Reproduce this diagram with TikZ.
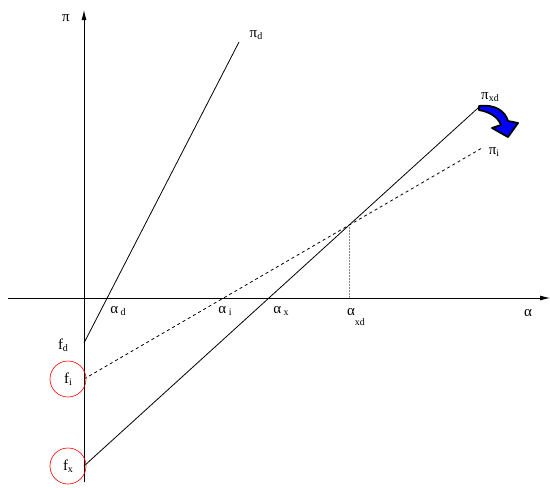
\documentclass[tikz,border=0pt]{standalone}
\usepackage{fontspec}
\setmainfont{Liberation Serif}
\usetikzlibrary{arrows.meta,intersections}
\newcommand{\sbs}[1]{\raisebox{-0.35ex}{\fontsize{10}{11}\selectfont #1}}
\begin{document}
\begin{tikzpicture}[>={Latex[length=10pt,width=5pt]}, x=1pt, y=-1pt, line width=0.8pt,
    lbl/.style={font=\fontsize{15}{17}\selectfont, inner sep=1pt},
    ring/.style={circle, draw=red, line width=0.6pt, minimum size=36pt, inner sep=0pt, font=\fontsize{15}{17}\selectfont}]
    \useasboundingbox (0,0) rectangle (550,488);
    % Axes
    \draw[->] (8,298) -- (550,298);
    \draw[->] (84,482) -- (84,10);
    \node[lbl] (alpha) at (528,313) {α};
    \node[lbl] (pi) at (66,18) {π};
    
    % Intercepts and ends
    \coordinate (fd) at (84,343);
    \coordinate (fi) at (84,379);
    \coordinate (fx) at (84,466);
    \coordinate (pid) at (239,42);
    \coordinate (pii) at (482,148);
    \coordinate (pixd) at (478,108);
    \coordinate (axl) at (8,298);
    \coordinate (axr) at (550,298);
    
    % Lines
    \draw[name path=lined] (fd) -- (pid);
    \draw[dashed, name path=linei] (fi) -- (pii);
    \draw[name path=linex] (fx) -- (pixd);
    \path[name intersections={of=linei and linex, by=cut}];
    \path (cut) -- (cut |- axl) coordinate (cutfoot);
    \draw[densely dotted, line width=0.5pt, gray] (cut) -- (cutfoot);
    
    % Labels
    \node[lbl] (labd) at (256,35) {π\sbs{d}};
    \node[lbl] (labxd) at (490,97) {π\sbs{xd}};
    \node[lbl] (labi) at (494,152) {π\sbs{i}};
    \node[lbl] (ad) at (118,311) {α\,\sbs{d}};
    \node[lbl] (ai) at (225,311) {α\,\sbs{i}};
    \node[lbl] (ax) at (281,311) {α\,\sbs{x}};
    \node[lbl] (axd) at (356,317) {α\raisebox{-1ex}{\sbs{xd}}};
    \node[lbl] (labfd) at (63,345) {f\sbs{d}};
    \node[ring] (labfi) at (68,379) {f\sbs{i}};
    \node[ring] (labfx) at (68,466) {f\sbs{x}};
    
    % Shift arrow
    \draw[fill=blue, line width=1.8pt, line join=round]
        (479,106) .. controls (495,104) and (505,111) .. (508,121)
        -- (518,123) -- (508,137) -- (492,128) -- (501,125)
        .. controls (498,117) and (490,112) .. (479,110) -- cycle;
\end{tikzpicture}
\end{document}
